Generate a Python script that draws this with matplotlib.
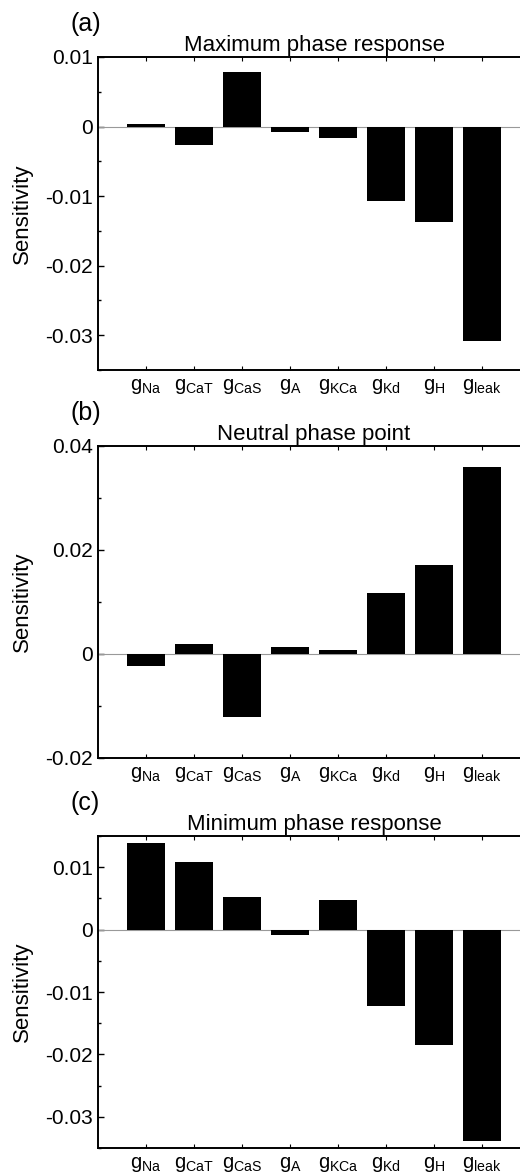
import matplotlib
matplotlib.use('Agg')
import matplotlib.pyplot as plt
import numpy as np
from matplotlib.ticker import MultipleLocator, FuncFormatter

plt.rcParams['font.family'] = ['Liberation Sans', 'DejaVu Sans']
plt.rcParams['mathtext.default'] = 'regular'

channels = ['Na', 'CaT', 'CaS', 'A', 'KCa', 'Kd', 'H', 'leak']

# sensitivities
max_phase = [0.0004, -0.0027, 0.0078, -0.0008, -0.0017, -0.0107, -0.0137, -0.0308]
neutral_point = [-0.0024, 0.0019, -0.0121, 0.0014, 0.0008, 0.0118, 0.0171, 0.0359]
min_phase = [0.0139, 0.0109, 0.0053, -0.0008, 0.0048, -0.0122, -0.0185, -0.0338]

W, H = 520, 1175

def fmt(v, pos):
    if abs(v) < 1e-12:
        return '0'
    return '%g' % round(v, 4)

def makePanel(fig, top, bottom, values, title, letter, ylim, major, minor):
    left, right = 98, 530
    ax = fig.add_axes([left / W, 1 - bottom / H, (right - left) / W, (bottom - top) / H])
    x = np.arange(1, len(channels) + 1)
    ax.bar(x, values, width=0.78, color='black', zorder=3)
    ax.axhline(0, color='#999999', lw=0.8, zorder=2)
    ax.set_xlim(0, 9)
    ax.set_ylim(*ylim)
    ax.set_xticks(x)
    ax.set_xticklabels(['$g_{%s}$' % c for c in channels], fontsize=14.5)
    ax.yaxis.set_major_locator(MultipleLocator(major))
    ax.yaxis.set_minor_locator(MultipleLocator(minor))
    ax.yaxis.set_major_formatter(FuncFormatter(fmt))
    ax.tick_params(axis='y', which='both', direction='in', labelsize=15, width=1.0)
    ax.tick_params(axis='y', which='major', length=4)
    ax.tick_params(axis='y', which='minor', length=2.5)
    ax.tick_params(axis='x', direction='in', top=True, length=3, pad=5)
    for s in ax.spines.values():
        s.set_linewidth(1.4)
    ax.set_title(title, fontsize=16, pad=4)
    ax.set_ylabel('Sensitivity', fontsize=16)
    ax.yaxis.set_label_coords(-0.15, 0.5)
    fig.text(70 / W, 1 - (top - 33) / H, letter, fontsize=18, va='center')
    return ax

def main():
    fig = plt.figure(figsize=(W / 100, H / 100), dpi=100)
    makePanel(fig, 57, 370, max_phase, 'Maximum phase response', '(a)',
              (-0.035, 0.01), 0.01, 0.005)
    makePanel(fig, 446, 758, neutral_point, 'Neutral phase point', '(b)',
              (-0.02, 0.04), 0.02, 0.01)
    makePanel(fig, 836, 1148, min_phase, 'Minimum phase response', '(c)',
              (-0.035, 0.015), 0.01, 0.005)
    fig.savefig('out.png', dpi=100)

main()
